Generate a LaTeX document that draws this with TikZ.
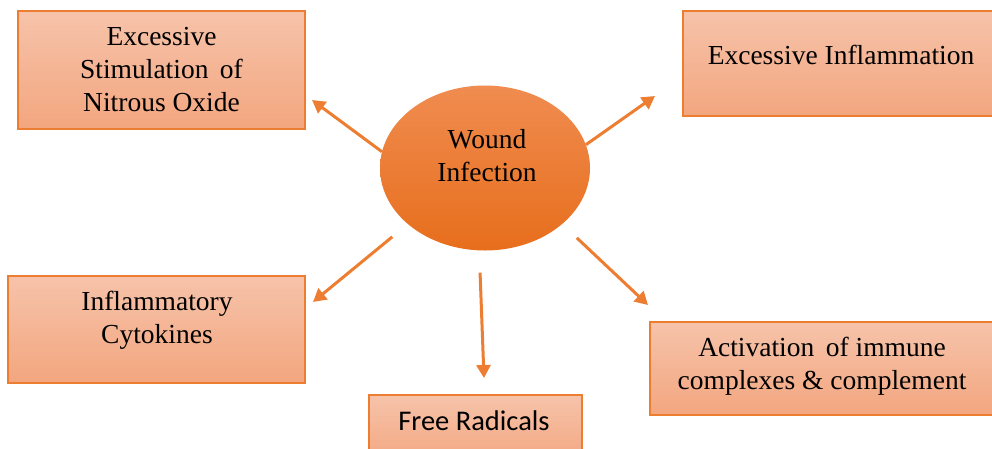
\documentclass[tikz,border=0pt]{standalone}
\usepackage{fontspec}
\setmainfont{Liberation Serif}
\newfontfamily\labelsans{Carlito}
\usetikzlibrary{shadings,arrows.meta,shapes.geometric}
\definecolor{accent}{HTML}{ED7D31}
\definecolor{boxtop}{HTML}{F6C3AA}
\definecolor{boxbot}{HTML}{F3A67F}
\definecolor{elltop}{HTML}{F08C50}
\definecolor{ellbot}{HTML}{E76E1C}
\tikzset{
  effectbox/.style={draw=accent, line width=1.5pt, top color=boxtop, bottom color=boxbot,
    rectangle, inner sep=0pt},
  boxtext/.style={align=center, font=\fontsize{27.5}{33}\selectfont, text=black, inner sep=0pt},
  hub/.style={ellipse, draw=none, top color=elltop, bottom color=ellbot,
    minimum width=210pt, minimum height=165pt, inner sep=0pt},
  spoke/.style={draw=accent, line width=3pt, -{Triangle[length=13pt,width=14pt]}},
}
\begin{document}
\begin{tikzpicture}[x=1pt,y=-1pt]
\useasboundingbox (0,0) rectangle (992,448);
% outcome boxes
\node[effectbox, minimum width=287pt, minimum height=118pt] (nitro) at (161.5,70) {};
\node[effectbox, minimum width=312pt, minimum height=105pt] (inflam) at (839,63.5) {};
\node[effectbox, minimum width=297pt, minimum height=107pt] (cyto) at (156.5,329.5) {};
\node[effectbox, minimum width=213pt, minimum height=70pt] (radic) at (475.5,430) {};
\node[effectbox, minimum width=345pt, minimum height=93pt] (immune) at (822.5,368.5) {};
% box captions
\node[boxtext] (nitrot) at (161.5,70) {Excessive\\Stimulation\, of\\Nitrous Oxide};
\node[boxtext] (inflamt) at (841,55) {Excessive Inflammation};
\node[boxtext] (cytot) at (157,320) {Inflammatory\\Cytokines};
\node[boxtext, font=\labelsans\fontsize{28.5}{30}\selectfont] (radict) at (474,421) {Free Radicals};
\node[boxtext] (immunet) at (822,366) {Activation\, of immune\\complexes \& complement};
% central cause
\node[hub] (ell) at (485,168) {};
\node[boxtext] (ellt) at (487,156) {Wound\\Infection};
% arrow tips
\coordinate (t1) at (312,100);
\coordinate (t2) at (655,96);
\coordinate (t3) at (313,302);
\coordinate (t4) at (484,378);
\coordinate (t5) at (648,305);
\draw[spoke] (ell.171) -- (t1);
\draw[spoke] (ell.13) -- (t2);
\draw[spoke, shorten <=20pt] (ell.216) -- (t3);
\draw[spoke, shorten <=22pt] (ell.266) -- (t4);
\draw[spoke, shorten <=20pt] (ell.324) -- (t5);
\end{tikzpicture}
\end{document}
